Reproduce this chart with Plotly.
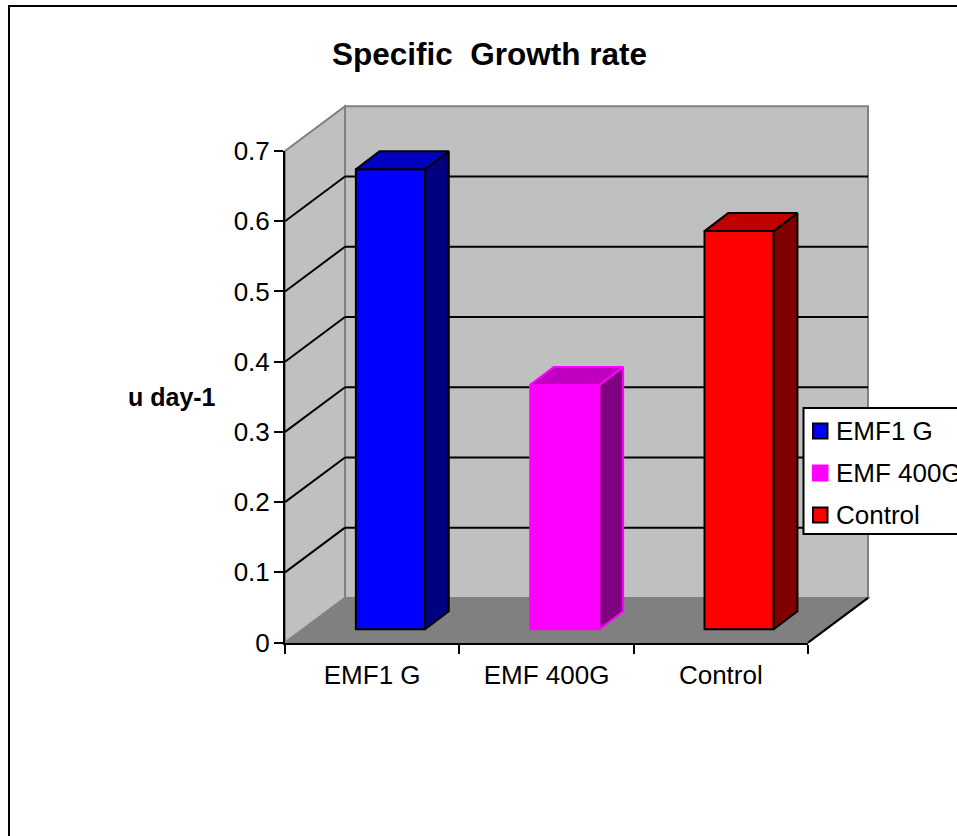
import plotly.graph_objects as go

categories = ["EMF1 G", "EMF 400G", "Control"]
growth_rate = [0.655, 0.348, 0.567]
front_colors = ["#0000FF", "#FF00FF", "#FF0000"]
top_colors = ["#0000C0", "#C000C0", "#C00000"]
side_colors = ["#000080", "#800080", "#800000"]
edge_colors = ["#000000", "#FF00FF", "#000000"]
y_ticks = [0, 0.1, 0.2, 0.3, 0.4, 0.5, 0.6, 0.7]
y_tick_labels = ["0", "0.1", "0.2", "0.3", "0.4", "0.5", "0.6", "0.7"]

W, H = 957, 836
FONT = "Liberation Sans, Arial, sans-serif"
# front plane of the 3D box in pixels
L, R, B, T = 285.0, 808.0, 642.6, 151.0
CAT = (R - L) / 3
UNIT = (B - T) / 0.7
DX, DY = 60 / CAT, 44.7 / UNIT     # wall depth in data units
OX, OY = 18.3 / CAT, 13.3 / UNIT   # bar offset from front plane
BX, BY = 23.7 / CAT, 18 / UNIT     # bar depth
BAR_W = 0.397


def px(x):
    return x / W


def py(y):
    return 1 - y / H


shapes = []


def poly(points, fill, line=None, width=2):
    d = "M" + "L".join(f"{x},{y}" for x, y in points) + "Z"
    shapes.append(dict(type="path", xref="x", yref="y", path=d, fillcolor=fill, layer="below",
                       line=dict(color=line or fill, width=width)))


def seg(x0, y0, x1, y1, color="#000000", width=2, xref="x", yref="y", layer="below"):
    shapes.append(dict(type="line", xref=xref, yref=yref, x0=x0, y0=y0, x1=x1, y1=y1, layer=layer,
                       line=dict(color=color, width=width)))


x0, x1, vmax = -0.5, 2.5, 0.7
poly([(x0, 0), (x0 + DX, DY), (x1 + DX, DY), (x1, 0)], "#808080")
poly([(x0, 0), (x0 + DX, DY), (x0 + DX, vmax + DY), (x0, vmax)], "#C0C0C0", "#808080")
poly([(x0 + DX, DY), (x1 + DX, DY), (x1 + DX, vmax + DY), (x0 + DX, vmax + DY)], "#C0C0C0", "#808080")
seg(x1, 0, x1 + DX, DY)
for v in y_ticks[1:-1]:
    seg(x0, v, x0 + DX, v + DY)
    seg(x0 + DX, v + DY, x1 + DX, v + DY)

fig = go.Figure()
for i, (cat, v) in enumerate(zip(categories, growth_rate)):
    xl = i + OX - BAR_W / 2
    xr = xl + BAR_W
    edge = dict(color=edge_colors[i], width=2)
    fig.add_trace(go.Bar(x=[i + OX], y=[v], base=[OY], width=[BAR_W], name=cat,
                         marker=dict(color=front_colors[i], line=edge),
                         xaxis="x", yaxis="y", showlegend=False))
    fig.add_trace(go.Scatter(x=[xr, xr + BX, xr + BX, xr, xr],
                             y=[OY, OY + BY, OY + BY + v, OY + v, OY],
                             mode="lines", fill="toself", fillcolor=side_colors[i], line=edge,
                             xaxis="x", yaxis="y", showlegend=False, hoverinfo="skip"))
    fig.add_trace(go.Scatter(x=[xl, xl + BX, xr + BX, xr, xl],
                             y=[OY + v, OY + BY + v, OY + BY + v, OY + v, OY + v],
                             mode="lines", fill="toself", fillcolor=top_colors[i], line=edge,
                             xaxis="x", yaxis="y", showlegend=False, hoverinfo="skip"))

# carrier for the visible axes
fig.add_trace(go.Scatter(x=categories, y=growth_rate, mode="markers", marker=dict(opacity=0),
                         xaxis="x2", yaxis="y2", showlegend=False, hoverinfo="skip"))

annotations = [
    dict(text="<b>u day-1</b>", xref="paper", yref="paper", x=px(172), y=py(397), xanchor="center", yanchor="middle",
         showarrow=False, font=dict(family=FONT, size=25, color="#000000")),
    dict(text="<b>Specific  Growth rate</b>", xref="paper", yref="paper", x=px(489), y=py(54), xanchor="center",
         yanchor="middle", showarrow=False, font=dict(family=FONT, size=31.5, color="#000000")),
]

# chart frame (runs off the right and bottom of the picture)
seg(px(9), py(6), px(9), py(H + 5), xref="paper", yref="paper", layer="above")
seg(px(8), py(6), px(W + 5), py(6), xref="paper", yref="paper", layer="above")

# legend box
shapes.append(dict(type="rect", xref="paper", yref="paper", x0=px(803.5), x1=px(W + 10), y0=py(408), y1=py(534),
                   fillcolor="#FFFFFF", line=dict(color="#000000", width=2), layer="above"))
for i, cat in enumerate(categories):
    yc = 431 + i * 42
    shapes.append(dict(type="rect", xref="paper", yref="paper", x0=px(813), x1=px(827.5), y0=py(yc - 7.5), y1=py(yc + 7.5),
                       fillcolor=front_colors[i], line=dict(color=edge_colors[i], width=2), layer="above"))
    annotations.append(dict(text=cat, xref="paper", yref="paper", x=px(834), y=py(yc), xanchor="left", yanchor="middle",
                            showarrow=False, font=dict(family=FONT, size=26, color="#000000")))

fig.update_layout(
    width=W, height=H, margin=dict(l=0, r=0, t=0, b=0, pad=0, autoexpand=False), autosize=False,
    paper_bgcolor="#FFFFFF", plot_bgcolor="rgba(0,0,0,0)", barmode="overlay", showlegend=False,
    xaxis=dict(domain=[0, 1], range=[x0 - L / CAT, x0 + (W - L) / CAT], visible=False, fixedrange=True),
    yaxis=dict(domain=[0, 1], range=[-(H - B) / UNIT, B / UNIT], visible=False, fixedrange=True),
    xaxis2=dict(domain=[px(L), px(R)], anchor="y2", type="category", range=[-0.5, 2.5], tickson="boundaries",
                ticks="outside", ticklen=9, tickwidth=2, tickcolor="#000000", showline=True, linecolor="#000000",
                linewidth=2, showgrid=False, zeroline=False, tickangle=0,
                tickfont=dict(family=FONT, size=26, color="#000000"), ticklabelstandoff=8),
    yaxis2=dict(domain=[py(B), py(T)], anchor="x2", range=[0, 0.7], tickvals=y_ticks, ticktext=y_tick_labels,
                ticks="outside", ticklen=9, tickwidth=2, tickcolor="#000000", showline=True, linecolor="#000000",
                linewidth=2, showgrid=False, zeroline=False,
                tickfont=dict(family=FONT, size=26, color="#000000"), ticklabelstandoff=-1),
    shapes=shapes, annotations=annotations,
)

fig.write_html("out.html", config=dict(displayModeBar=False),
               post_script="document.body.style.margin='0';document.body.style.overflow='hidden';")
